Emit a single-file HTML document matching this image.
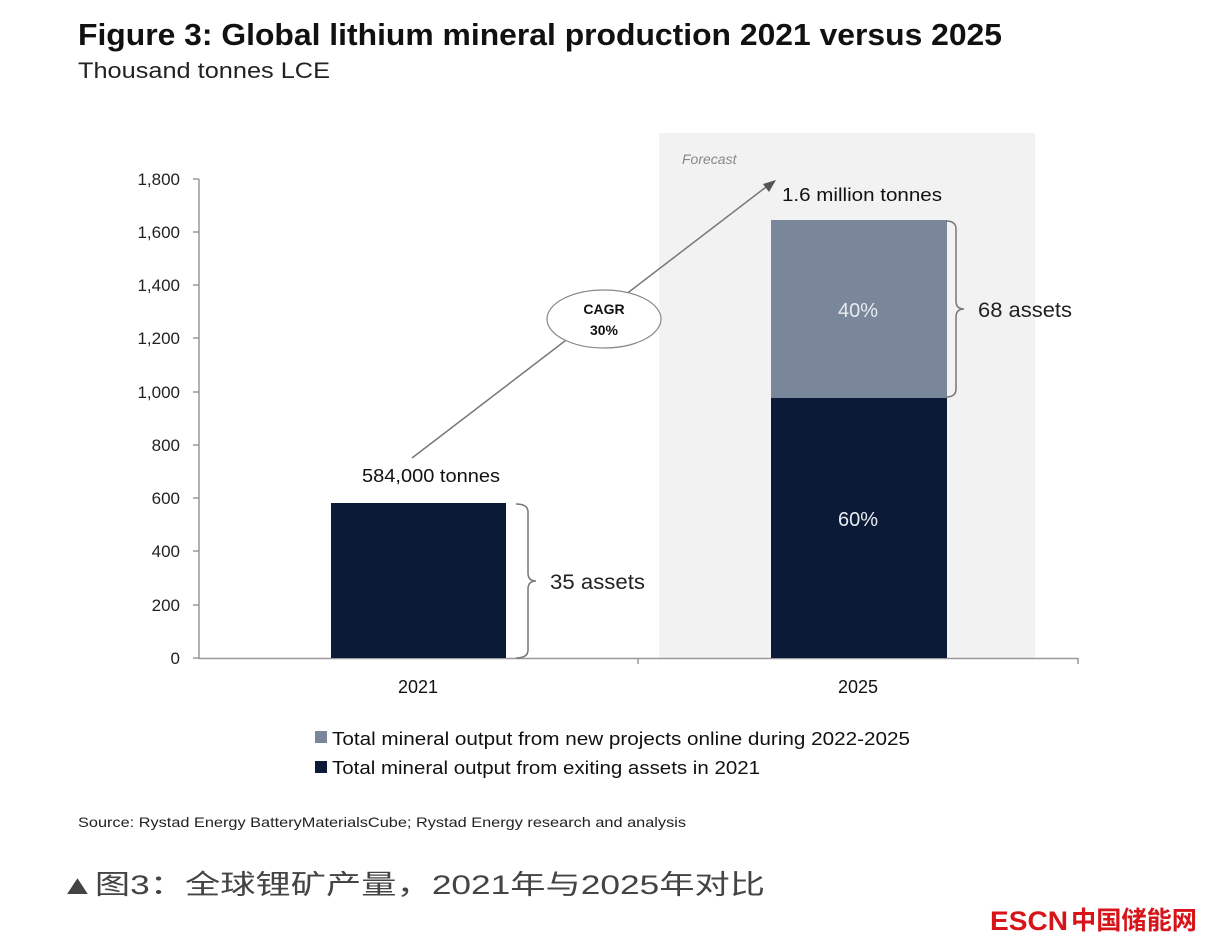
<!DOCTYPE html>
<html><head><meta charset="utf-8"><style>
body{margin:0;background:#fff;}
svg{display:block;font-family:"Liberation Sans","Noto Sans CJK SC",sans-serif;}
</style></head><body>
<svg width="1223" height="952" viewBox="0 0 1223 952" xmlns="http://www.w3.org/2000/svg">
<rect width="1223" height="952" fill="#fff"/>
<text x="78" y="45" font-size="31" font-weight="bold" fill="#111" textLength="924" lengthAdjust="spacingAndGlyphs">Figure 3: Global lithium mineral production 2021 versus 2025</text>
<text x="78" y="78" font-size="22" fill="#222" textLength="252" lengthAdjust="spacingAndGlyphs">Thousand tonnes LCE</text>
<rect x="659" y="133" width="376" height="525" fill="#f2f2f2"/>
<text x="682" y="164" font-size="14" font-style="italic" fill="#888">Forecast</text>
<g stroke="#999" stroke-width="1.5">
<line x1="199" y1="179" x2="199" y2="659"/>
<line x1="199" y1="658.5" x2="1078" y2="658.5"/>
<line x1="193" y1="179" x2="199" y2="179"/><line x1="193" y1="232" x2="199" y2="232"/>
<line x1="193" y1="285" x2="199" y2="285"/><line x1="193" y1="338" x2="199" y2="338"/>
<line x1="193" y1="392" x2="199" y2="392"/><line x1="193" y1="445" x2="199" y2="445"/>
<line x1="193" y1="498" x2="199" y2="498"/><line x1="193" y1="551" x2="199" y2="551"/>
<line x1="193" y1="605" x2="199" y2="605"/><line x1="193" y1="658" x2="199" y2="658"/>
<line x1="638" y1="658" x2="638" y2="664"/><line x1="1078" y1="658" x2="1078" y2="664"/>
</g>
<g font-size="17" fill="#222" text-anchor="end">
<text x="180" y="185">1,800</text><text x="180" y="238">1,600</text><text x="180" y="291">1,400</text>
<text x="180" y="344">1,200</text><text x="180" y="398">1,000</text><text x="180" y="451">800</text>
<text x="180" y="504">600</text><text x="180" y="557">400</text><text x="180" y="611">200</text>
<text x="180" y="664">0</text>
</g>
<rect x="331" y="503" width="175" height="155" fill="#0b1a36"/>
<rect x="771" y="398" width="176" height="260" fill="#0b1a36"/>
<rect x="771" y="220" width="176" height="178" fill="#7a8699"/>
<text x="858" y="317" font-size="20" fill="#e8ecf2" text-anchor="middle">40%</text>
<text x="858" y="526" font-size="20" fill="#e8ecf2" text-anchor="middle">60%</text>
<text x="362" y="482" font-size="18" fill="#111" textLength="138" lengthAdjust="spacingAndGlyphs">584,000 tonnes</text>
<text x="782" y="201" font-size="18" fill="#111" textLength="160" lengthAdjust="spacingAndGlyphs">1.6 million tonnes</text>
<path d="M516 504 Q528 504 528 512 L528 573 Q528 581 536 581 Q528 581 528 589 L528 650 Q528 658 516 658" fill="none" stroke="#777" stroke-width="1.5"/>
<text x="550" y="589" font-size="21" fill="#222" textLength="95" lengthAdjust="spacingAndGlyphs">35 assets</text>
<path d="M946 221 Q956 221 956 229 L956 301 Q956 309 964 309 Q956 309 956 317 L956 389 Q956 397 946 397" fill="none" stroke="#777" stroke-width="1.5"/>
<text x="978" y="317" font-size="21" fill="#222" textLength="94" lengthAdjust="spacingAndGlyphs">68 assets</text>
<line x1="412" y1="458" x2="770" y2="184" stroke="#777" stroke-width="1.5"/>
<polygon points="776,180 763,184 769,192" fill="#555"/>
<ellipse cx="604" cy="319" rx="57" ry="29" fill="#fff" stroke="#888" stroke-width="1.2"/>
<text x="604" y="314" font-size="14" font-weight="bold" fill="#111" text-anchor="middle">CAGR</text>
<text x="604" y="335" font-size="14" font-weight="bold" fill="#111" text-anchor="middle">30%</text>
<text x="418" y="693" font-size="18" fill="#111" text-anchor="middle">2021</text>
<text x="858" y="693" font-size="18" fill="#111" text-anchor="middle">2025</text>
<rect x="315" y="731" width="12" height="12" fill="#7a8699"/>
<text x="332" y="745" font-size="18" fill="#111" textLength="578" lengthAdjust="spacingAndGlyphs">Total mineral output from new projects online during 2022-2025</text>
<rect x="315" y="761" width="12" height="12" fill="#0b1a36"/>
<text x="332" y="774" font-size="18" fill="#111" textLength="428" lengthAdjust="spacingAndGlyphs">Total mineral output from exiting assets in 2021</text>
<text x="78" y="827" font-size="14" fill="#222" textLength="608" lengthAdjust="spacingAndGlyphs">Source: Rystad Energy BatteryMaterialsCube; Rystad Energy research and analysis</text>
<text x="60" y="894" font-size="27" fill="#444" textLength="705" lengthAdjust="spacingAndGlyphs">▲图3：全球锂矿产量，2021年与2025年对比</text>
<text x="990" y="930" font-size="27" font-weight="bold" fill="#d7141a" textLength="78" lengthAdjust="spacingAndGlyphs">ESCN</text>
<text x="1071" y="929" font-size="25" font-weight="bold" fill="#d7141a" textLength="126" lengthAdjust="spacingAndGlyphs">中国储能网</text>
</svg>
</body></html>
